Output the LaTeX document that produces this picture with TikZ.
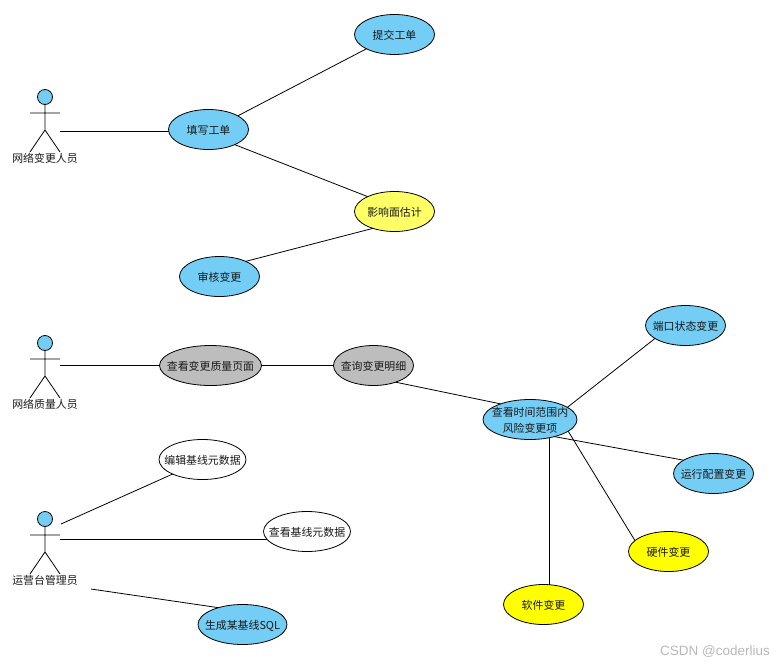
\documentclass[tikz,border=0pt]{standalone}
\usepackage{fontspec}
\setmainfont{Noto Sans CJK SC}
\newfontfamily\wmfont{Liberation Sans}
\usetikzlibrary{shapes.geometric}
\definecolor{ublue}{HTML}{73CDF5}
\definecolor{ugray}{HTML}{BDBDBD}
\definecolor{uyellow}{HTML}{FFFF66}
\definecolor{ubright}{HTML}{FFFF00}
\tikzset{
  uc/.style={ellipse,draw=black,line width=0.8pt,inner sep=0pt,outer sep=0pt,minimum width=80pt,minimum height=40pt,font=\fontsize{10.9pt}{12pt}\selectfont,text=black!90},
  head/.style={circle,draw=black,line width=0.8pt,fill=ublue,inner sep=0pt,outer sep=0pt,minimum size=15pt},
  lbl/.style={font=\fontsize{10.9pt}{12pt}\selectfont,text=black!90,inner sep=0pt},
  conn/.style={line width=0.8pt,black},
}
% zero-size text so that the ellipse keeps its own size
\newcommand{\zw}[2][-4.6]{\makebox[0pt]{\raisebox{#1pt}[0pt][0pt]{#2}}}
\newcommand{\umlactor}[4]{% name, x, y of head, label
  \node[head] (#1) at (#2,#3) {};
  \coordinate (#1hip) at (#2,#3+33);
  \coordinate (#1la) at (#2-15,#3+16);
  \coordinate (#1ra) at (#2+15,#3+16);
  \coordinate (#1ll) at (#2-15,#3+55);
  \coordinate (#1rl) at (#2+15,#3+55);
  \draw[conn] (#1) -- (#1hip) (#1la) -- (#1ra) (#1ll) -- (#1hip) -- (#1rl);
  \node[lbl] (#1t) at (#2,#3+61) {#4};
}
\begin{document}
\begin{tikzpicture}[x=1pt,y=-1pt]
\useasboundingbox (0,0) rectangle (778,666);
\umlactor{a}{45}{97}{网络变更人员}
\umlactor{b}{45}{343}{网络质量人员}
\umlactor{c}{45}{519}{运营台管理员}
\coordinate (af) at (60,131);
\coordinate (bf) at (60,365);
\coordinate (cfa) at (61,524);
\coordinate (cfb) at (60,539);
\coordinate (cfc) at (91,589);

\node[uc,fill=ublue] (tx) at (208.5,129.5) {\zw{填写工单}};
\node[uc,fill=ublue] (tj) at (394.5,34.5) {\zw{提交工单}};
\node[uc,fill=uyellow] (yx) at (394.5,211.5) {\zw{影响面估计}};
\node[uc,fill=ublue] (sh) at (219.5,276.5) {\zw{审核变更}};
\node[uc,fill=ugray,minimum width=102pt] (zl) at (210.5,365.5) {\zw{查看变更质量页面}};
\node[uc,fill=ugray] (mx) at (373.5,365.5) {\zw{查询变更明细}};
\node[uc,fill=ublue,minimum width=94pt] (fx) at (530,419.5) {\zw[2.6]{查看时间范围内}\zw[-13.4]{风险变更项}};
\node[uc,fill=ublue] (dk) at (685.5,325.5) {\zw{端口状态变更}};
\node[uc,fill=ublue] (yy) at (713.5,473.5) {\zw{运行配置变更}};
\node[uc,fill=ubright] (yj) at (668.5,551.5) {\zw{硬件变更}};
\node[uc,fill=ubright] (rj) at (543.5,604.5) {\zw{软件变更}};
\node[uc,fill=white,minimum width=87pt] (bj) at (202.5,459.5) {\zw{编辑基线元数据}};
\node[uc,fill=white,minimum width=87pt] (ck) at (307,531.5) {\zw{查看基线元数据}};
\node[uc,fill=ublue,minimum width=89pt] (sc) at (242.5,624.5) {\zw{生成某基线SQL}};

\draw[conn] (af) -- (af -| tx.183);
\draw[conn] (tx.25) -- (tj.207);
\draw[conn] (tx.-30) -- (yx.151);
\draw[conn] (sh.30) -- (yx.218);
\draw[conn] (bf) -- (bf -| zl.west);
\draw[conn] (bf -| zl.east) -- (bf -| mx.west);
\draw[conn] (mx.-37) -- (fx.152);
\draw[conn] (fx.18) -- (dk.203);
\draw[conn] (fx.-35) -- (yy.156);
\draw[conn] (fx.-17) -- (yj.162);
\draw[conn] (fx.-44) -- (fx.-44 |- rj.73);
\draw[conn] (cfa) -- (bj.206);
\draw[conn] (cfb) -- (cfb -| ck.191);
\draw[conn] (cfc) -- (sc.145);

\node[inner sep=0pt,font=\wmfont\fontsize{13.5pt}{14pt}\selectfont,text=black!28] (wm) at (715,652) {CSDN @coderlius};
\end{tikzpicture}
\end{document}
